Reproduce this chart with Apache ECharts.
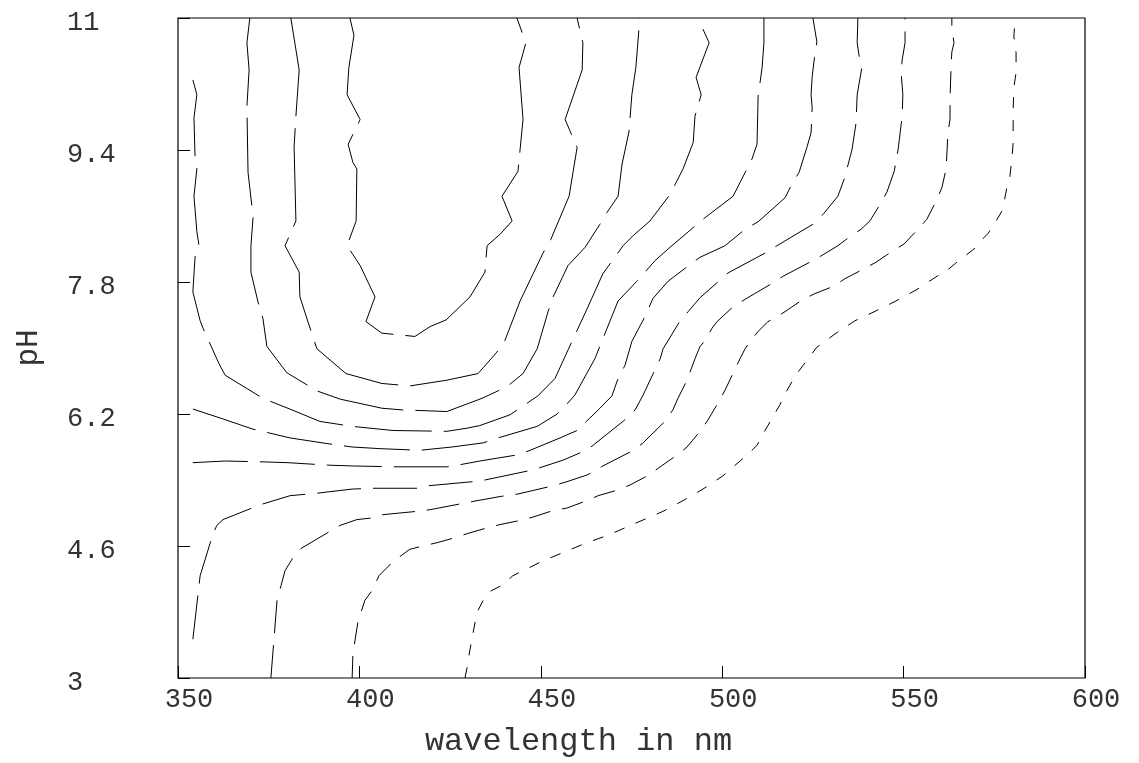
<!DOCTYPE html>
<html>
<head>
<meta charset="utf-8">
<title>pH contour</title>
<script src="https://cdn.jsdelivr.net/npm/echarts@6/dist/echarts.min.js"></script>
<style>
  html, body { margin: 0; padding: 0; background: #fff; }
  #contourChart { width: 1139px; height: 763px; }
</style>
</head>
<body>
<div id="contourChart"></div>
<script>
// contour lines, innermost (long dash) to outermost (short dash)
// each one is a wavelength list (nm) and a pH list of the same length
const c1Wl = [397.4, 398.5, 397.1, 396.6, 400.2, 396.9, 398.2, 399.3, 399.1, 396.6, 400.2, 404.3, 401.8, 406.2, 415.3, 419.5, 423.9, 430.5, 434.6, 435.2, 438.8, 442.1, 439.3, 443.7, 445.1, 444.0, 445.9, 443.4]
const c1Ph = [11.00, 10.79, 10.40, 10.07, 9.77, 9.47, 9.25, 9.17, 8.54, 8.24, 8.00, 7.62, 7.32, 7.18, 7.14, 7.26, 7.34, 7.62, 7.92, 8.24, 8.38, 8.54, 8.84, 9.14, 9.77, 10.40, 10.70, 11.00]

const c2Wl = [381.1, 383.4, 382.5, 382.0, 382.5, 379.5, 383.4, 383.6, 386.4, 388.3, 396.3, 406.2, 413.9, 424.1, 432.7, 437.9, 440.1, 444.3, 450.6, 452.8, 457.8, 460.0, 456.7, 461.4, 461.6, 460.0]
const c2Ph = [11.00, 10.37, 9.81, 9.44, 8.54, 8.24, 7.92, 7.62, 7.24, 6.99, 6.69, 6.57, 6.54, 6.61, 6.69, 6.95, 7.09, 7.57, 8.15, 8.32, 8.84, 9.43, 9.77, 10.37, 10.70, 11.00]

const c3Wl = [369.8, 369.0, 369.6, 369.0, 369.3, 370.7, 370.1, 370.1, 372.1, 373.4, 374.5, 380.0, 385.3, 388.3, 394.7, 406.2, 411.7, 424.1, 433.8, 438.2, 441.2, 445.1, 449.0, 452.0, 453.4, 457.5, 462.2, 466.3, 468.2, 471.3, 472.4, 474.3, 475.1, 476.2, 477.3]
const c3Ph = [11.00, 10.70, 10.37, 9.93, 9.13, 8.59, 8.24, 7.92, 7.55, 7.36, 7.02, 6.70, 6.56, 6.48, 6.38, 6.27, 6.25, 6.23, 6.39, 6.48, 6.55, 6.69, 6.99, 7.44, 7.62, 8.00, 8.22, 8.50, 8.64, 8.84, 9.23, 9.62, 10.07, 10.40, 11.00]

const c4Wl = [354.1, 355.2, 354.4, 354.7, 355.2, 354.4, 355.2, 355.8, 354.7, 354.1, 356.1, 356.9, 361.3, 363.0, 373.4, 381.4, 389.1, 398.0, 409.3, 424.1, 429.9, 433.2, 441.5, 449.2, 453.9, 458.6, 462.5, 467.1, 472.7, 475.4, 480.1, 485.6, 489.2, 492.0, 492.5, 494.2, 492.8, 496.4, 493.3]
const c4Ph = [10.25, 10.07, 9.79, 9.32, 9.17, 8.84, 8.41, 8.24, 8.10, 7.68, 7.33, 7.24, 6.81, 6.67, 6.39, 6.25, 6.11, 6.05, 6.00, 5.99, 6.03, 6.06, 6.19, 6.42, 6.63, 7.08, 7.45, 7.90, 8.24, 8.36, 8.54, 8.86, 9.17, 9.49, 9.81, 10.07, 10.28, 10.70, 11.00]

const c5Wl = [354.1, 362.4, 370.4, 380.9, 391.3, 398.0, 405.7, 416.7, 425.5, 434.1, 438.2, 449.0, 454.5, 457.2, 459.4, 464.9, 468.0, 471.3, 476.5, 481.5, 485.6, 494.7, 503.0, 508.2, 509.6, 509.9, 511.0, 511.5, 511.5]
const c5Ph = [6.26, 6.14, 6.02, 5.91, 5.84, 5.80, 5.78, 5.76, 5.80, 5.85, 5.91, 6.05, 6.20, 6.32, 6.43, 6.87, 7.21, 7.57, 7.81, 8.06, 8.22, 8.56, 8.84, 9.29, 9.47, 10.05, 10.40, 10.70, 11.00]

const c6Wl = [354.1, 363.0, 373.2, 380.3, 391.3, 398.2, 409.8, 424.4, 428.3, 433.2, 442.9, 446.5, 455.3, 460.0, 466.3, 469.6, 471.3, 473.2, 475.1, 478.7, 480.9, 485.1, 492.0, 493.9, 500.8, 506.3, 509.9, 517.3, 519.5, 521.2, 523.4, 524.5, 524.8, 524.5, 524.8, 525.6, 526.1, 525.0]
const c6Ph = [5.61, 5.63, 5.62, 5.61, 5.58, 5.57, 5.56, 5.56, 5.59, 5.63, 5.70, 5.75, 5.91, 6.00, 6.27, 6.42, 6.63, 6.79, 7.08, 7.38, 7.60, 7.81, 8.04, 8.10, 8.24, 8.44, 8.53, 8.82, 9.01, 9.13, 9.44, 9.61, 9.91, 10.07, 10.29, 10.58, 10.71, 11.00]

const c7Wl = [354.1, 356.1, 359.6, 360.7, 362.4, 369.8, 373.4, 380.9, 388.3, 398.0, 403.7, 415.9, 418.9, 431.3, 434.6, 446.5, 449.8, 456.1, 461.4, 464.1, 473.2, 476.0, 478.2, 482.9, 483.7, 488.4, 490.6, 493.9, 498.8, 501.6, 511.8, 515.1, 525.0, 527.8, 531.9, 533.8, 535.8, 536.9, 537.2, 538.5, 537.7, 537.2, 537.4]
const c7Ph = [3.47, 4.24, 4.74, 4.85, 4.92, 5.05, 5.11, 5.21, 5.24, 5.29, 5.30, 5.30, 5.33, 5.38, 5.40, 5.51, 5.55, 5.64, 5.74, 5.81, 6.13, 6.25, 6.43, 6.87, 6.99, 7.33, 7.44, 7.61, 7.80, 7.91, 8.15, 8.24, 8.50, 8.62, 8.84, 9.07, 9.41, 9.73, 10.07, 10.40, 10.55, 10.70, 11.00]

const c8Wl = [375.6, 377.3, 378.4, 379.5, 381.7, 383.9, 391.6, 394.7, 399.3, 403.5, 406.5, 415.9, 419.5, 431.3, 438.8, 443.7, 453.4, 457.2, 462.7, 464.4, 467.1, 475.1, 478.2, 484.2, 486.4, 487.8, 490.3, 492.5, 493.9, 495.3, 497.2, 498.6, 503.0, 506.3, 514.0, 516.8, 525.0, 527.8, 531.9, 535.2, 538.3, 540.7, 543.5, 545.4, 547.4, 548.5, 549.6, 549.8, 549.3, 549.6, 550.4, 550.4]
const c8Ph = [3.00, 3.94, 4.12, 4.30, 4.46, 4.57, 4.77, 4.85, 4.92, 4.94, 4.98, 5.02, 5.04, 5.14, 5.20, 5.23, 5.33, 5.38, 5.46, 5.50, 5.57, 5.75, 5.85, 6.11, 6.25, 6.39, 6.61, 6.87, 7.02, 7.09, 7.24, 7.32, 7.50, 7.59, 7.79, 7.87, 8.06, 8.13, 8.24, 8.35, 8.44, 8.54, 8.74, 8.89, 9.14, 9.41, 9.81, 10.07, 10.35, 10.49, 10.70, 11.00]

const c9Wl = [398.0, 398.2, 398.8, 399.6, 401.5, 403.5, 405.4, 409.0, 412.0, 413.9, 417.5, 421.4, 426.3, 429.7, 435.2, 438.8, 444.3, 447.8, 453.4, 457.2, 462.7, 465.8, 471.3, 474.6, 479.8, 482.9, 487.5, 490.3, 493.9, 496.1, 498.8, 500.8, 504.9, 506.3, 507.7, 509.9, 512.6, 514.3, 517.3, 522.3, 525.6, 530.8, 533.8, 539.1, 542.4, 547.1, 550.1, 554.2, 556.4, 559.2, 560.6, 561.7, 562.0, 562.2, 562.8, 562.8, 563.1, 563.3, 563.9, 563.3, 563.3]
const c9Ph = [3.00, 3.28, 3.46, 3.68, 3.94, 4.06, 4.24, 4.40, 4.50, 4.56, 4.60, 4.64, 4.70, 4.75, 4.82, 4.86, 4.91, 4.95, 5.03, 5.06, 5.15, 5.21, 5.28, 5.34, 5.46, 5.56, 5.70, 5.80, 5.99, 6.13, 6.33, 6.49, 6.87, 6.99, 7.08, 7.20, 7.32, 7.36, 7.44, 7.59, 7.66, 7.75, 7.84, 7.96, 8.04, 8.18, 8.26, 8.45, 8.56, 8.80, 8.95, 9.17, 9.41, 9.61, 9.77, 10.03, 10.43, 10.59, 10.70, 10.86, 11.00]

const c10Wl = [429.1, 429.7, 430.5, 431.9, 432.7, 434.1, 436.0, 439.6, 442.3, 445.1, 450.6, 457.2, 462.7, 468.5, 471.6, 477.9, 483.7, 489.2, 494.7, 500.2, 504.9, 506.8, 509.6, 511.0, 512.6, 514.0, 515.9, 517.0, 518.7, 520.1, 522.3, 524.2, 526.1, 528.6, 531.4, 533.8, 536.6, 542.4, 547.9, 553.7, 559.2, 561.4, 564.4, 569.7, 571.3, 573.3, 575.5, 577.1, 577.7, 578.5, 579.3, 579.9, 580.2, 580.2, 580.2, 580.4, 581.0, 581.0, 580.4, 580.7]
const c10Ph = [3.00, 3.13, 3.35, 3.68, 3.82, 3.94, 4.05, 4.13, 4.24, 4.30, 4.42, 4.54, 4.64, 4.73, 4.79, 4.91, 5.02, 5.15, 5.29, 5.45, 5.63, 5.70, 5.82, 5.94, 6.06, 6.17, 6.31, 6.42, 6.55, 6.66, 6.79, 6.90, 7.01, 7.09, 7.18, 7.25, 7.33, 7.45, 7.57, 7.71, 7.87, 7.92, 8.03, 8.21, 8.30, 8.39, 8.54, 8.66, 8.77, 8.95, 9.08, 9.32, 9.49, 9.73, 9.89, 10.16, 10.34, 10.58, 10.77, 11.00]

const contours = [
  [c1Wl, c1Ph], [c2Wl, c2Ph], [c3Wl, c3Ph], [c4Wl, c4Ph], [c5Wl, c5Ph],
  [c6Wl, c6Ph], [c7Wl, c7Ph], [c8Wl, c8Ph], [c9Wl, c9Ph], [c10Wl, c10Ph]
]

// dash length for each contour, the gap stays the same
const dashLen = [110, 99, 88, 77, 66, 55, 44, 33, 22, 11]

const labelFont = 'Liberation Mono'
const labelColor = '#333'

const chart = echarts.init(document.getElementById('contourChart'))
chart.setOption({
  animation: false,
  backgroundColor: '#fff',
  grid: {
    left: 178,
    right: 54,
    top: 18,
    bottom: 82,
    show: true,
    borderColor: '#000',
    borderWidth: 1.2
  },
  xAxis: {
    type: 'value',
    min: 350,
    max: 600,
    interval: 50,
    name: 'wavelength in nm',
    nameLocation: 'middle',
    nameGap: 48,
    nameTextStyle: {
      fontFamily: labelFont,
      fontSize: 32,
      color: labelColor,
      padding: [0, 106, 0, 0]
    },
    axisLine: { show: false },
    axisTick: { inside: true, length: 12, lineStyle: { color: '#000', width: 1 } },
    axisLabel: {
      fontFamily: labelFont,
      fontSize: 27,
      color: labelColor,
      margin: 8,
      padding: [0, 0, 0, 22]
    },
    splitLine: { show: false }
  },
  yAxis: {
    type: 'value',
    min: 3,
    max: 11,
    interval: 1.6,
    name: 'pH',
    nameLocation: 'middle',
    nameGap: 134,
    nameTextStyle: {
      fontFamily: labelFont,
      fontSize: 31,
      color: labelColor
    },
    axisLine: { show: false },
    axisTick: { inside: true, length: 12, lineStyle: { color: '#000', width: 1 } },
    axisLabel: {
      fontFamily: labelFont,
      fontSize: 27,
      color: labelColor,
      align: 'left',
      verticalAlign: 'top',
      lineHeight: 10,
      margin: 111,
      formatter: v => String(+v.toFixed(1))
    },
    splitLine: { show: false }
  },
  series: contours.map(([wl, ph], i) => ({
    type: 'line',
    data: wl.map((w, j) => [w, ph[j]]),
    showSymbol: false,
    symbol: 'none',
    silent: true,
    lineStyle: { color: '#000', width: 1, type: [dashLen[i], 12] }
  }))
})
</script>
</body>
</html>
